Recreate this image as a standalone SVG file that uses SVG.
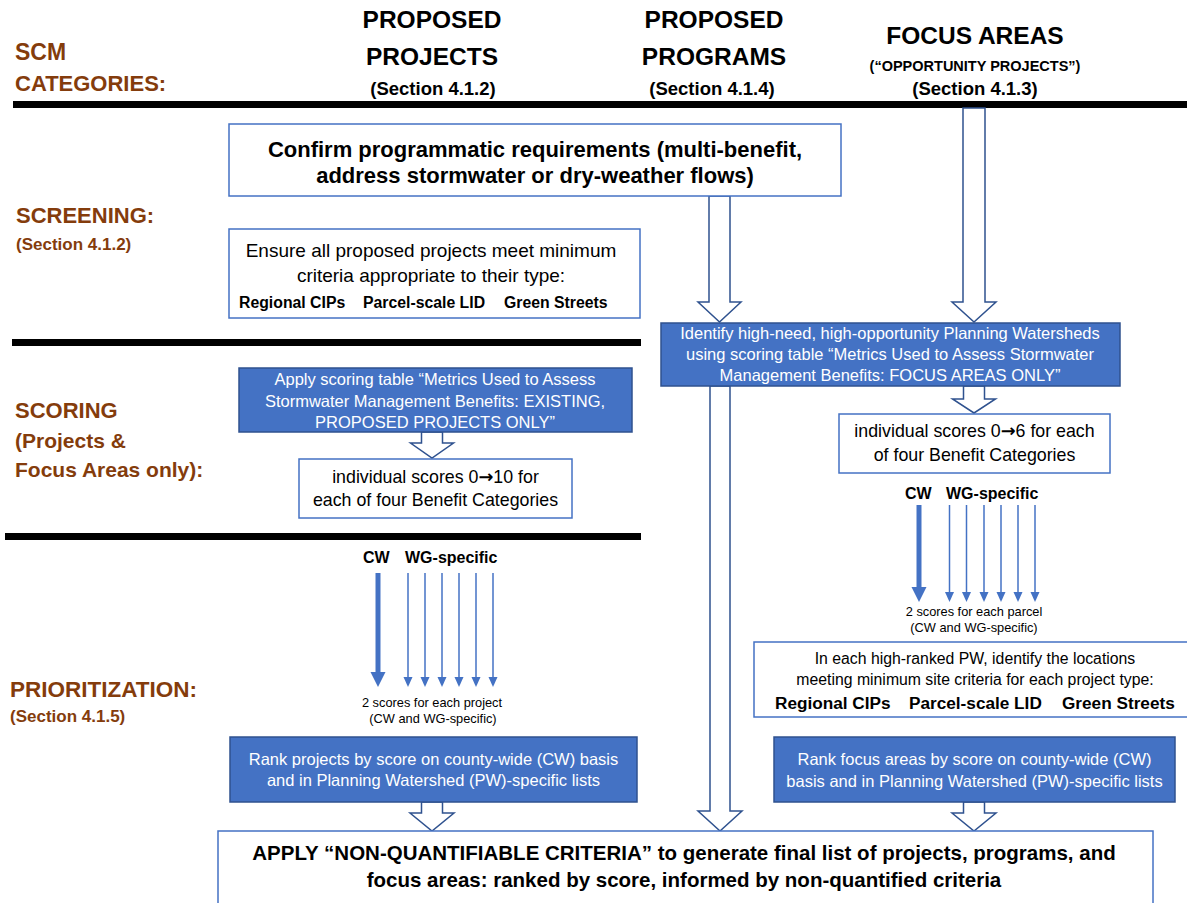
<svg xmlns="http://www.w3.org/2000/svg" width="1187" height="903" viewBox="0 0 1187 903">
<style>
text{font-family:"Liberation Sans",Arial,sans-serif;}
.lbl{fill:#843C0C;font-weight:bold;}
.hdr{fill:#000;font-weight:bold;text-anchor:middle;}
.wbox{fill:#fff;stroke:#4472C4;stroke-width:1.5;}
.bbox{fill:#4472C4;stroke:#2F528F;stroke-width:1.5;}
.bt{fill:#fff;text-anchor:middle;font-size:16.5px;}
.wt{fill:#000;text-anchor:middle;}
.bold{font-weight:bold;}
.arr{font-family:"DejaVu Sans",sans-serif;font-weight:bold;}
.blk{fill:#000;}
.barrow{fill:#fff;stroke:#2F528F;stroke-width:1.5;stroke-linejoin:miter;}
.thin{stroke:#4472C4;stroke-width:1.5;fill:none;}
.thick{stroke:#4472C4;stroke-width:5;fill:none;}
.sm{fill:#000;text-anchor:middle;font-size:12.8px;}
</style>
<defs>
<marker id="hThin" markerUnits="userSpaceOnUse" markerWidth="10" markerHeight="10" refX="1" refY="5" orient="auto"><path d="M0,0.5 L10,5 L0,9.5 Z" fill="#4472C4"/></marker>
<marker id="hThick" markerUnits="userSpaceOnUse" markerWidth="15" markerHeight="16" refX="1" refY="8" orient="auto"><path d="M0,0.5 L15,8 L0,15.5 Z" fill="#4472C4"/></marker>
</defs>
<rect width="1187" height="903" fill="#fff"/>

<g id="row-labels">
<text class="lbl" x="15" y="60" font-size="23">SCM</text>
<text class="lbl" x="15" y="91" font-size="22">CATEGORIES:</text>
<text class="lbl" x="16" y="223" font-size="22">SCREENING:</text>
<text class="lbl" x="16" y="250" font-size="17">(Section 4.1.2)</text>
<text class="lbl" x="15" y="418" font-size="22">SCORING</text>
<text class="lbl" x="15" y="448" font-size="21">(Projects &amp;</text>
<text class="lbl" x="15" y="477" font-size="21">Focus Areas only):</text>
<text class="lbl" x="10" y="697" font-size="22.5">PRIORITIZATION:</text>
<text class="lbl" x="10" y="722" font-size="17">(Section 4.1.5)</text>
</g>

<g id="hdr-projects">
<text class="hdr" x="432" y="28" font-size="24.5">PROPOSED</text>
<text class="hdr" x="432" y="65" font-size="24.5">PROJECTS</text>
<text class="hdr" x="433" y="95" font-size="18.5">(Section 4.1.2)</text>
</g>
<g id="hdr-programs">
<text class="hdr" x="714" y="28" font-size="24.5">PROPOSED</text>
<text class="hdr" x="714" y="65" font-size="24.5">PROGRAMS</text>
<text class="hdr" x="712" y="95" font-size="18.5">(Section 4.1.4)</text>
</g>
<g id="hdr-focus">
<text class="hdr" x="975" y="44" font-size="24.5">FOCUS AREAS</text>
<text class="hdr" x="975" y="71" font-size="14.5">(“OPPORTUNITY PROJECTS”)</text>
<text class="hdr" x="975" y="95" font-size="18.5">(Section 4.1.3)</text>
</g>

<g id="separators">
<rect class="blk" x="13" y="101" width="1174" height="7"/>
<rect class="blk" x="12" y="339" width="629" height="7"/>
<rect class="blk" x="5" y="533" width="636" height="7"/>
</g>

<g id="connectors">
<path class="barrow" d="M709,196 L730,196 L730,302 L741,302 L719.5,322 L698,302 L709,302 Z"/>
<path class="barrow" d="M963,108 L985,108 L985,302 L996,302 L974,322 L952,302 L963,302 Z"/>
<path class="barrow" d="M421.5,432 L442.5,432 L442.5,443 L453.5,443 L432,458 L410.5,443 L421.5,443 Z"/>
<path class="barrow" d="M963.5,386 L984.5,386 L984.5,399 L995.5,399 L974,413 L952.5,399 L963.5,399 Z"/>
<path class="barrow" d="M710,386 L730,386 L730,811 L742,811 L720,831 L698,811 L710,811 Z"/>
<path class="barrow" d="M421.5,802 L442.5,802 L442.5,813 L454,813 L432,831 L410,813 L421.5,813 Z"/>
<path class="barrow" d="M963.5,802 L984.5,802 L984.5,813 L996,813 L974,831 L952,813 L963.5,813 Z"/>
<line class="thick" x1="378" y1="573" x2="378" y2="673" marker-end="url(#hThick)"/>
<line class="thin" x1="408" y1="573" x2="408" y2="678" marker-end="url(#hThin)"/>
<line class="thin" x1="425" y1="573" x2="425" y2="678" marker-end="url(#hThin)"/>
<line class="thin" x1="442" y1="573" x2="442" y2="678" marker-end="url(#hThin)"/>
<line class="thin" x1="459" y1="573" x2="459" y2="678" marker-end="url(#hThin)"/>
<line class="thin" x1="476" y1="573" x2="476" y2="678" marker-end="url(#hThin)"/>
<line class="thin" x1="493" y1="573" x2="493" y2="678" marker-end="url(#hThin)"/>
<line class="thick" x1="919" y1="505" x2="919" y2="588" marker-end="url(#hThick)"/>
<line class="thin" x1="949.5" y1="505" x2="949.5" y2="593" marker-end="url(#hThin)"/>
<line class="thin" x1="966.5" y1="505" x2="966.5" y2="593" marker-end="url(#hThin)"/>
<line class="thin" x1="984" y1="505" x2="984" y2="593" marker-end="url(#hThin)"/>
<line class="thin" x1="1001" y1="505" x2="1001" y2="593" marker-end="url(#hThin)"/>
<line class="thin" x1="1018" y1="505" x2="1018" y2="593" marker-end="url(#hThin)"/>
<line class="thin" x1="1035" y1="505" x2="1035" y2="593" marker-end="url(#hThin)"/>
</g>

<g id="confirm">
<rect class="wbox" x="229" y="124" width="612" height="72"/>
<text class="wt bold" x="535" y="157" font-size="22">Confirm programmatic requirements (multi-benefit,</text>
<text class="wt bold" x="535" y="183" font-size="22">address stormwater or dry-weather flows)</text>
</g>

<g id="ensure">
<rect class="wbox" x="229" y="229" width="411" height="89"/>
<text class="wt" x="431" y="257" font-size="19">Ensure all proposed projects meet minimum</text>
<text class="wt" x="431" y="282" font-size="19">criteria appropriate to their type:</text>
<text class="bold" x="239" y="308" font-size="15.8">Regional CIPs</text>
<text class="bold" x="363" y="308" font-size="15.8">Parcel-scale LID</text>
<text class="bold" x="504" y="308" font-size="15.8">Green Streets</text>
</g>

<g id="identify">
<rect class="bbox" x="661" y="323" width="459" height="63"/>
<text class="bt" x="890" y="339">Identify high-need, high-opportunity Planning Watersheds</text>
<text class="bt" x="890" y="360">using scoring table “Metrics Used to Assess Stormwater</text>
<text class="bt" x="890" y="381">Management Benefits: FOCUS AREAS ONLY”</text>
</g>

<g id="apply-scoring">
<rect class="bbox" x="239" y="368" width="393" height="64"/>
<text class="bt" x="435" y="385">Apply scoring table “Metrics Used to Assess</text>
<text class="bt" x="435" y="407">Stormwater Management Benefits: EXISTING,</text>
<text class="bt" x="435" y="428">PROPOSED PROJECTS ONLY”</text>
</g>

<g id="scores-10">
<rect class="wbox" x="299" y="459" width="273" height="59"/>
<text class="wt" x="435.5" y="483" font-size="17.8">individual scores 0<tspan class="arr">→</tspan>10 for</text>
<text class="wt" x="435.5" y="506" font-size="17.8">each of four Benefit Categories</text>
</g>

<g id="scores-6">
<rect class="wbox" x="839" y="414" width="271" height="59"/>
<text class="wt" x="974.5" y="437" font-size="17.8">individual scores 0<tspan class="arr">→</tspan>6 for each</text>
<text class="wt" x="974.5" y="461" font-size="17.8">of four Benefit Categories</text>
</g>

<g id="cw-wg-right">
<text class="bold" x="905" y="499" font-size="16">CW</text>
<text class="bold" x="946" y="499" font-size="16">WG-specific</text>
<text class="sm" x="974" y="616">2 scores for each parcel</text>
<text class="sm" x="974" y="632">(CW and WG-specific)</text>
</g>

<g id="cw-wg-left">
<text class="bold" x="363" y="563" font-size="16">CW</text>
<text class="bold" x="405" y="563" font-size="16">WG-specific</text>
<text class="sm" x="432" y="707">2 scores for each project</text>
<text class="sm" x="433" y="723">(CW and WG-specific)</text>
</g>

<g id="locations">
<rect class="wbox" x="754" y="642" width="440" height="75"/>
<text class="wt" x="975" y="664" font-size="15.8">In each high-ranked PW, identify the locations</text>
<text class="wt" x="975" y="685" font-size="15.8">meeting minimum site criteria for each project type:</text>
<text class="bold" x="775" y="709" font-size="17.2">Regional CIPs</text>
<text class="bold" x="909" y="709" font-size="17.2">Parcel-scale LID</text>
<text class="bold" x="1062" y="709" font-size="17.2">Green Streets</text>
</g>

<g id="rank-projects">
<rect class="bbox" x="230" y="737" width="407" height="65"/>
<text class="bt" x="433.5" y="765">Rank projects by score on county-wide (CW) basis</text>
<text class="bt" x="433.5" y="786">and in Planning Watershed (PW)-specific lists</text>
</g>

<g id="rank-focus">
<rect class="bbox" x="774" y="737" width="401" height="65"/>
<text class="bt" x="974.5" y="765">Rank focus areas by score on county-wide (CW)</text>
<text class="bt" x="974.5" y="787">basis and in Planning Watershed (PW)-specific lists</text>
</g>

<g id="final">
<rect class="wbox" x="218" y="831" width="935" height="80"/>
<text class="wt bold" x="684" y="860" font-size="20.5">APPLY “NON-QUANTIFIABLE CRITERIA” to generate final list of projects, programs, and</text>
<text class="wt bold" x="684" y="887" font-size="20.5">focus areas: ranked by score, informed by non-quantified criteria</text>
</g>
</svg>
